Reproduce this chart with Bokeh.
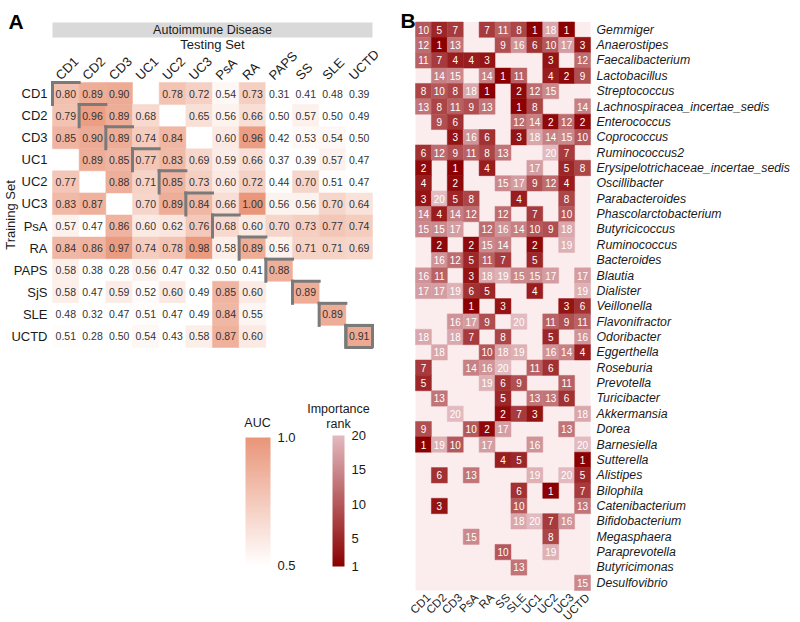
import numpy as np
from bokeh.plotting import figure
from bokeh.models import (ColumnDataSource, Range1d, LinearColorMapper, Label,
                          ColorBar, FixedTicker, PrintfTickFormatter)
from bokeh.transform import transform
from bokeh.embed import file_html
from bokeh.resources import INLINE
from bokeh.core.properties import value

FONT = "Liberation Sans"
N = None

# ---------------- Panel A data ----------------
train_sets = ["CD1", "CD2", "CD3", "UC1", "UC2", "UC3", "PsA", "RA", "PAPS", "SjS", "SLE", "UCTD"]
test_sets = ["CD1", "CD2", "CD3", "UC1", "UC2", "UC3", "PsA", "RA", "PAPS", "SS", "SLE", "UCTD"]

auc_CD1 = [0.80, 0.89, 0.90, N, 0.78, 0.72, 0.54, 0.73, 0.31, 0.41, 0.48, 0.39]
auc_CD2 = [0.79, 0.96, 0.89, 0.68, N, 0.65, 0.56, 0.66, 0.50, 0.57, 0.50, 0.49]
auc_CD3 = [0.85, 0.90, 0.89, 0.74, 0.84, N, 0.60, 0.96, 0.42, 0.53, 0.54, 0.50]
auc_UC1 = [N, 0.89, 0.85, 0.77, 0.83, 0.69, 0.59, 0.66, 0.37, 0.39, 0.57, 0.47]
auc_UC2 = [0.77, N, 0.88, 0.71, 0.85, 0.73, 0.60, 0.72, 0.44, 0.70, 0.51, 0.47]
auc_UC3 = [0.83, 0.87, N, 0.70, 0.89, 0.84, 0.66, 1.00, 0.56, 0.56, 0.70, 0.64]
auc_PsA = [0.57, 0.47, 0.86, 0.60, 0.62, 0.76, 0.68, 0.60, 0.70, 0.73, 0.77, 0.74]
auc_RA = [0.84, 0.86, 0.97, 0.74, 0.78, 0.98, 0.58, 0.89, 0.56, 0.71, 0.71, 0.69]
auc_PAPS = [0.58, 0.38, 0.28, 0.56, 0.47, 0.32, 0.50, 0.41, 0.88, N, N, N]
auc_SjS = [0.58, 0.47, 0.59, 0.52, 0.60, 0.49, 0.85, 0.60, N, 0.89, N, N]
auc_SLE = [0.48, 0.32, 0.47, 0.51, 0.47, 0.49, 0.84, 0.55, N, N, 0.89, N]
auc_UCTD = [0.51, 0.28, 0.50, 0.54, 0.43, 0.58, 0.87, 0.60, N, N, N, 0.91]
auc_rows = [auc_CD1, auc_CD2, auc_CD3, auc_UC1, auc_UC2, auc_UC3,
            auc_PsA, auc_RA, auc_PAPS, auc_SjS, auc_SLE, auc_UCTD]

auc_ticks = [0.5, 1.0]

# ---------------- Panel B data ----------------
b_sets = ["CD1", "CD2", "CD3", "PsA", "RA", "SS", "SLE", "UC1", "UC2", "UC3", "UCTD"]
genera = ["Gemmiger", "Anaerostipes", "Faecalibacterium", "Lactobacillus", "Streptococcus",
          "Lachnospiracea_incertae_sedis", "Enterococcus", "Coprococcus", "Ruminococcus2",
          "Erysipelotrichaceae_incertae_sedis", "Oscillibacter", "Parabacteroides",
          "Phascolarctobacterium", "Butyricicoccus", "Ruminococcus", "Bacteroides", "Blautia",
          "Dialister", "Veillonella", "Flavonifractor", "Odoribacter", "Eggerthella", "Roseburia",
          "Prevotella", "Turicibacter", "Akkermansia", "Dorea", "Barnesiella", "Sutterella",
          "Alistipes", "Bilophila", "Catenibacterium", "Bifidobacterium", "Megasphaera",
          "Paraprevotella", "Butyricimonas", "Desulfovibrio"]

rank_Gemmiger = [10, 5, 7, N, 7, 11, 8, 1, 18, 1, N]
rank_Anaerostipes = [12, 1, 13, N, N, 9, 16, 6, 10, 17, 3]
rank_Faecalibacterium = [11, 7, 4, 4, 3, N, N, N, 3, N, 12]
rank_Lactobacillus = [N, 14, 15, N, 14, 1, 11, N, 4, 2, 9]
rank_Streptococcus = [8, 10, 8, 18, 1, N, 2, 12, 15, N, N]
rank_Lachnospiracea = [13, 8, 11, 9, 13, N, 1, 8, N, N, 14]
rank_Enterococcus = [N, 9, 6, N, N, N, 12, 14, 2, 12, 2]
rank_Coprococcus = [N, N, 3, 16, 6, N, 3, 18, 14, 15, 10]
rank_Ruminococcus2 = [6, 12, 9, 11, 8, 13, N, N, 20, 7, N]
rank_Erysipelotrichaceae = [2, N, 1, N, 4, N, N, 17, N, 5, 8]
rank_Oscillibacter = [4, N, 2, N, N, 15, 17, 9, 12, 4, N]
rank_Parabacteroides = [3, 20, 5, 8, N, N, 4, N, N, 8, N]
rank_Phascolarctobacterium = [14, 4, 14, 12, N, 12, N, 7, N, 10, N]
rank_Butyricicoccus = [15, 15, 17, N, 12, 16, 14, 10, 9, 18, N]
rank_Ruminococcus = [N, 2, N, 2, 15, 14, N, 2, N, 19, N]
rank_Bacteroides = [N, 16, 12, 5, 11, 7, N, 5, N, N, N]
rank_Blautia = [16, 11, N, 3, 18, 19, 15, 15, 17, N, 17]
rank_Dialister = [17, 17, 19, 6, 5, N, N, 4, N, N, 19]
rank_Veillonella = [N, N, N, 1, N, 3, N, N, N, 3, 6]
rank_Flavonifractor = [N, N, 16, 17, 9, N, 20, N, 11, 9, 11]
rank_Odoribacter = [18, N, 18, 7, N, 8, N, N, 5, N, 16]
rank_Eggerthella = [N, 18, N, N, 10, 18, 19, N, 16, 14, 4]
rank_Roseburia = [7, N, N, 14, 16, 20, N, 11, 6, N, N]
rank_Prevotella = [5, N, N, N, 19, 6, 9, N, N, 11, N]
rank_Turicibacter = [N, 13, N, N, N, 5, N, 13, 13, 6, N]
rank_Akkermansia = [N, N, 20, N, N, 2, 7, 3, N, N, 18]
rank_Dorea = [9, N, N, 10, 2, 17, N, N, N, 13, N]
rank_Barnesiella = [1, 19, 10, N, 17, N, N, 16, N, N, 20]
rank_Sutterella = [N, N, N, N, N, 4, 5, N, N, N, 1]
rank_Alistipes = [N, 6, N, 13, N, N, N, 19, N, 20, 5]
rank_Bilophila = [N, N, N, N, N, N, 6, N, 1, N, 7]
rank_Catenibacterium = [N, 3, N, N, N, N, 10, N, N, N, 13]
rank_Bifidobacterium = [N, N, N, N, N, N, 18, 20, 7, 16, N]
rank_Megasphaera = [N, N, N, 15, N, N, N, N, 8, N, N]
rank_Paraprevotella = [N, N, N, N, N, 10, N, N, 19, N, N]
rank_Butyricimonas = [N, N, N, N, N, N, 13, N, N, N, N]
rank_Desulfovibrio = [N, N, N, N, N, N, N, N, N, N, 15]
rank_rows = [rank_Gemmiger, rank_Anaerostipes, rank_Faecalibacterium, rank_Lactobacillus,
             rank_Streptococcus, rank_Lachnospiracea, rank_Enterococcus, rank_Coprococcus,
             rank_Ruminococcus2, rank_Erysipelotrichaceae, rank_Oscillibacter, rank_Parabacteroides,
             rank_Phascolarctobacterium, rank_Butyricicoccus, rank_Ruminococcus, rank_Bacteroides,
             rank_Blautia, rank_Dialister, rank_Veillonella, rank_Flavonifractor, rank_Odoribacter,
             rank_Eggerthella, rank_Roseburia, rank_Prevotella, rank_Turicibacter, rank_Akkermansia,
             rank_Dorea, rank_Barnesiella, rank_Sutterella, rank_Alistipes, rank_Bilophila,
             rank_Catenibacterium, rank_Bifidobacterium, rank_Megasphaera, rank_Paraprevotella,
             rank_Butyricimonas, rank_Desulfovibrio]

rank_ticks = [1, 5, 10, 15, 20]


def ramp(c0, c1, n=256):
    out = []
    for t in np.linspace(0, 1, n):
        out.append("#%02x%02x%02x" % tuple(int(round(a + (b - a) * t)) for a, b in zip(c0, c1)))
    return out


auc_pal = ramp((255, 255, 255), (233, 150, 122))
auc_mapper = LinearColorMapper(palette=auc_pal, low=0.5, high=1.0,
                               low_color="#ffffff", high_color=auc_pal[-1])
rank_pal = ramp((139, 0, 0), (226, 186, 191))
rank_mapper = LinearColorMapper(palette=rank_pal, low=1, high=20)

# ---------------- canvas & panel geometry (layout only, in canvas pixels) ----------------
W, H = 796, 620
p = figure(width=W, height=H, x_range=Range1d(0, W), y_range=Range1d(H, 0),
           x_axis_location=None, y_axis_location=None, min_border=0,
           toolbar_location=None, output_backend="svg",
           outline_line_color=None, background_fill_color="white", border_fill_color="white")
p.grid.visible = False

# panel A heatmap frame
A_L, A_T, A_W, A_H = 52, 82, 320, 265
wA, hA = A_W / len(test_sets), A_H / len(train_sets)
p.extra_x_ranges["ax"] = Range1d(-A_L / wA - 0.5, (W - A_L) / wA - 0.5)
p.extra_y_ranges["ay"] = Range1d((H - A_T) / hA - 0.5, -A_T / hA - 0.5)
# panel B heatmap frame
B_L, B_T, B_W, B_H = 415, 21.5, 175, 568.5
wB, hB = B_W / len(b_sets), B_H / len(genera)
p.extra_x_ranges["bx"] = Range1d(-B_L / wB - 0.5, (W - B_L) / wB - 0.5)
p.extra_y_ranges["by"] = Range1d((H - B_T) / hB - 0.5, -B_T / hB - 0.5)
A = dict(x_range_name="ax", y_range_name="ay")
B = dict(x_range_name="bx", y_range_name="by")

# ---------------- Panel A ----------------
a_x, a_y, a_v, a_t = [], [], [], []
for j, vals in enumerate(auc_rows):
    for i, v in enumerate(vals):
        if v is None:
            continue
        a_x.append(i)
        a_y.append(j)
        a_v.append(v)
        a_t.append("%.2f" % v)
srcA = ColumnDataSource(dict(x=a_x, y=a_y, v=a_v, t=a_t))

p.rect(x="x", y="y", width=1, height=1, source=srcA, fill_color=transform("v", auc_mapper),
       line_color=transform("v", auc_mapper), line_width=0.5, **A)
p.text(x="x", y="y", text="t", source=srcA, text_align="center", text_baseline="middle",
       text_font_size="10.5px", text_color="#333333", text_font=value(FONT), **A)

# diagonal outlines (top + left edges; full box on the last one)
nA = len(train_sets)
d_idx = list(range(nA))
diag = ColumnDataSource(dict(xl=[i - 0.5 for i in d_idx], xr=[i + 0.5 for i in d_idx],
                             yt=[i - 0.5 for i in d_idx], yb=[i + 0.5 for i in d_idx]))
seg_kw = dict(source=diag, line_color="#7a7a7a", line_width=3, line_cap="square", **A)
p.segment(x0="xl", y0="yb", x1="xl", y1="yt", **seg_kw)
p.segment(x0="xl", y0="yt", x1="xr", y1="yt", **seg_kw)
p.rect(x=[nA - 1], y=[nA - 1], width=1, height=1, fill_color=None,
       line_color="#7a7a7a", line_width=3, **A)

# row / column tick labels of panel A
p.text(x=[-0.5] * nA, y=d_idx, text=train_sets, x_offset=-5, text_align="right",
       text_baseline="middle", text_font_size="13px", text_color="#1a1a1a",
       text_font=value(FONT), **A)
p.text(x=list(range(len(test_sets))), y=[-0.5] * len(test_sets), text=test_sets,
       x_offset=-8, y_offset=-5, angle=np.pi / 4, text_align="left", text_baseline="middle",
       text_font_size="13px", text_color="#1a1a1a", text_font=value(FONT), **A)

# strip
p.quad(left=[-0.5], right=[len(test_sets) - 0.5], top=[22], bottom=[37],
       fill_color="#d9d9d9", line_color=None, x_range_name="ax")


def lab(x, y, text, size, **kw):
    opts = dict(x=x, y=y, text=text, text_font=FONT, text_font_size=size,
                text_color="#1a1a1a", text_align="center", text_baseline="middle")
    opts.update(kw)
    p.add_layout(Label(**opts))


lab((len(test_sets) - 1) / 2, 29.5, "Autoimmune Disease", "12.5px", x_range_name="ax")
lab((len(test_sets) - 1) / 2, 44, "Testing Set", "13px", x_range_name="ax")
lab(10, (nA - 1) / 2, "Training Set", "13px", angle=np.pi / 2, y_range_name="ay")
lab(8, 21, "A", "21px", text_font_style="bold", text_align="left",
    text_baseline="alphabetic", text_color="black")
lab(400, 20, "B", "21px", text_font_style="bold", text_align="left",
    text_baseline="alphabetic", text_color="black")
lab(257, 422, "AUC", "12.5px")
lab(338, 408, "Importance", "12.5px")
lab(338, 423, "rank", "12.5px")

cb_common = dict(orientation="vertical", padding=0, major_label_text_font_size="13px",
                 major_label_text_font=FONT, major_label_text_color="#1a1a1a",
                 label_standoff=7, major_tick_line_color=None, minor_tick_line_color=None,
                 bar_line_color=None, background_fill_alpha=0, border_line_color=None)
p.add_layout(ColorBar(color_mapper=auc_mapper, location=(245, H - 565), width=25, height=128,
                      ticker=FixedTicker(ticks=auc_ticks),
                      formatter=PrintfTickFormatter(format="%.1f"), **cb_common))
p.add_layout(ColorBar(color_mapper=rank_mapper, location=(332, H - 566), width=12, height=131,
                      ticker=FixedTicker(ticks=rank_ticks), **cb_common))

# ---------------- Panel B ----------------
nB, mB = len(genera), len(b_sets)
p.quad(left=[-0.5], right=[mB - 0.5], top=[-0.5], bottom=[nB - 0.5],
       fill_color="#fbeced", line_color=None, **B)

b_x, b_y, b_v, b_t = [], [], [], []
for j, vals in enumerate(rank_rows):
    for i, v in enumerate(vals):
        if v is None:
            continue
        b_x.append(i)
        b_y.append(j)
        b_v.append(v)
        b_t.append(str(v))
srcB = ColumnDataSource(dict(x=b_x, y=b_y, v=b_v, t=b_t))

p.rect(x="x", y="y", width=1, height=1, source=srcB, fill_color=transform("v", rank_mapper),
       line_color=transform("v", rank_mapper), line_width=0.5, **B)
p.text(x="x", y="y", text="t", source=srcB, text_align="center", text_baseline="middle",
       text_font_size="10px", text_color="white", text_font=value(FONT), **B)

p.text(x=[mB - 0.5] * nB, y=list(range(nB)), text=genera, x_offset=6, text_align="left",
       text_baseline="middle", text_font_size="12.3px", text_font_style="italic",
       text_color="#1a1a1a", text_font=value(FONT), **B)
p.text(x=list(range(mB)), y=[nB - 0.5] * mB, text=b_sets, x_offset=5, y_offset=5,
       angle=np.pi / 4, text_align="right", text_baseline="middle", text_font_size="11.5px",
       text_color="#1a1a1a", text_font=value(FONT), **B)

open("out.html", "w").write(file_html(p, INLINE))
